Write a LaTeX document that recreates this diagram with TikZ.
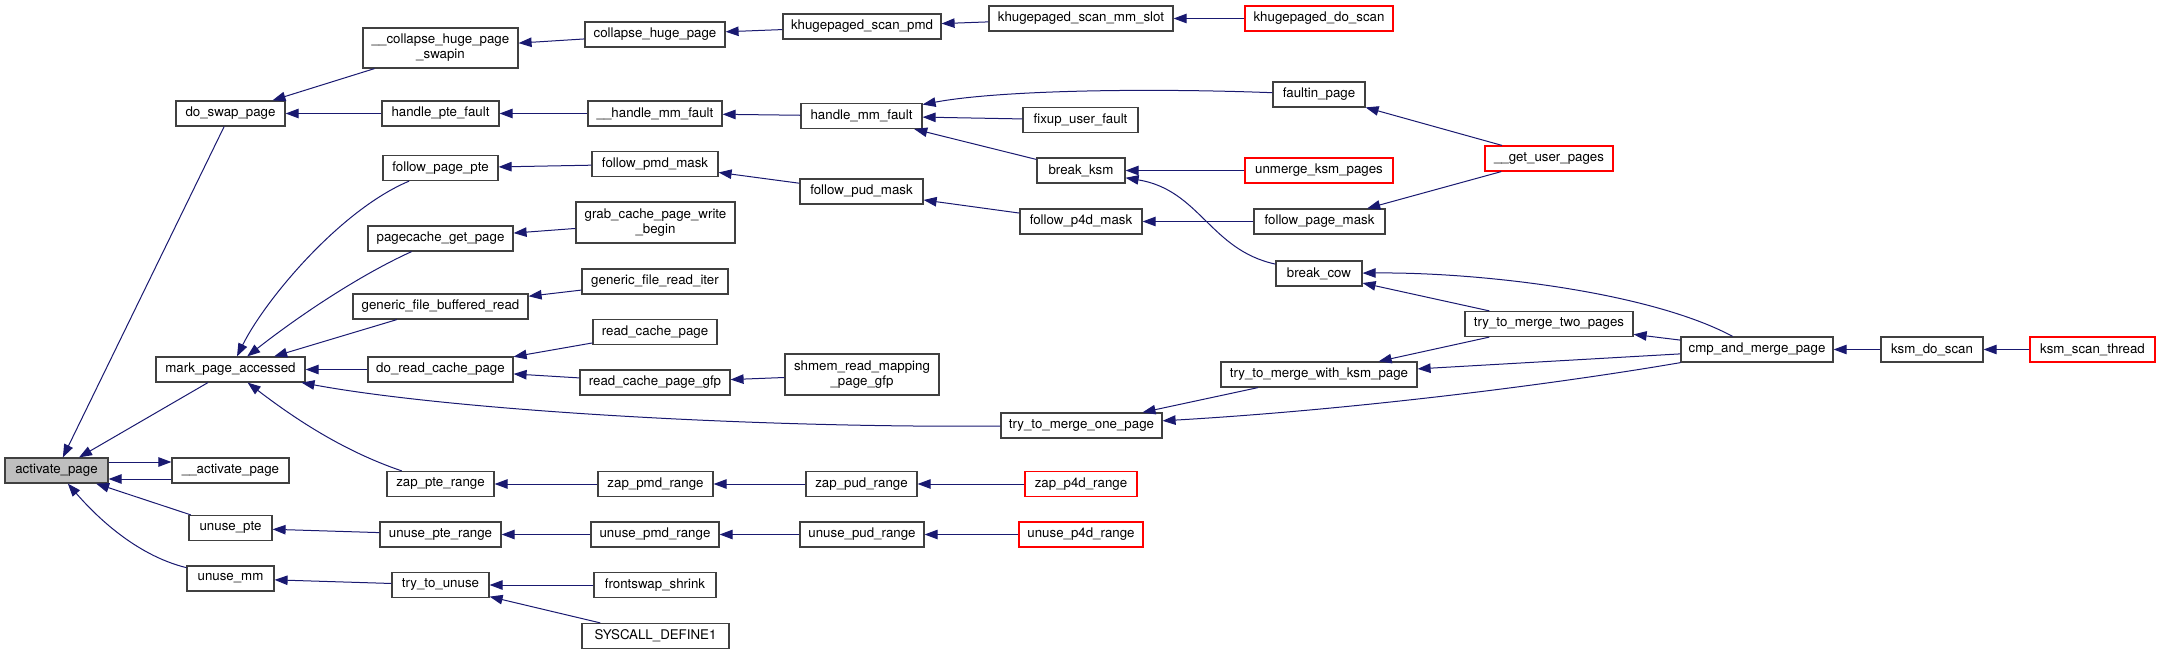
\documentclass[tikz,border=0pt]{standalone}
\usepackage{fontspec}
\setmainfont{TeX Gyre Heros}
\usepackage{xcolor}
\usepackage{tikz}
\usetikzlibrary{arrows.meta,positioning}
\definecolor{edgeblue}{HTML}{191970}
\definecolor{boxgray}{HTML}{404040}

\begin{document}
\begin{tikzpicture}[x=1pt, y=-1pt,
	fn/.style={draw=boxgray, line width=1.2pt, fill=white, minimum height=25pt, inner xsep=2pt, inner ysep=1pt, font=\fontsize{13.3}{15}\selectfont, align=center},
	ext/.style={fn, draw=red},
	cur/.style={fn, fill=black!25},
	call/.style={draw=edgeblue, line width=1pt, -{Triangle[length=13pt, width=9.5pt]}}]
		\useasboundingbox (0,0) rectangle (2164,655);
		\node[cur, minimum width=103] (ap) at (56.5,470.5) {activate\_page};
		\node[fn, minimum width=109] (dsp) at (230.5,113.5) {do\_swap\_page};
		\node[fn, minimum width=149] (mpa) at (230.5,369.5) {mark\_page\_accessed};
		\node[fn, minimum width=117] (uap) at (230.5,470.5) {\_\_activate\_page};
		\node[fn, minimum width=83] (upte) at (230.5,528) {unuse\_pte};
		\node[fn, minimum width=87] (umm) at (230.5,578.5) {unuse\_mm};
		\node[fn, minimum width=155, minimum height=40] (chps) at (440.5,48) {\_\_collapse\_huge\_page\\\_swapin};
		\node[fn, minimum width=117] (hpf) at (440.5,113.5) {handle\_pte\_fault};
		\node[fn, minimum width=115] (fpte) at (440.5,168) {follow\_page\_pte};
		\node[fn, minimum width=145] (pgp) at (440.5,238.5) {pagecache\_get\_page};
		\node[fn, minimum width=175] (gfbr) at (440.5,306.5) {generic\_file\_buffered\_read};
		\node[fn, minimum width=145] (drcp) at (440.5,369.5) {do\_read\_cache\_page};
		\node[fn, minimum width=107] (zpte) at (440.5,484) {zap\_pte\_range};
		\node[fn, minimum width=121] (uptr) at (440.5,534.5) {unuse\_pte\_range};
		\node[fn, minimum width=97] (ttu) at (440.5,585) {try\_to\_unuse};
		\node[fn, minimum width=140] (chp) at (655,34.5) {collapse\_huge\_page};
		\node[fn, minimum width=134] (hmmf) at (655,113.5) {\_\_handle\_mm\_fault};
		\node[fn, minimum width=126] (fpmd) at (655,164) {follow\_pmd\_mask};
		\node[fn, minimum width=159, minimum height=41] (gcpwb) at (655.5,222.5) {grab\_cache\_page\_write\\\_begin};
		\node[fn, minimum width=146] (gfri) at (655,281.5) {generic\_file\_read\_iter};
		\node[fn, minimum width=124] (rcp) at (655,332) {read\_cache\_page};
		\node[fn, minimum width=150] (rcpg) at (655,382.5) {read\_cache\_page\_gfp};
		\node[fn, minimum width=115] (zpmd) at (655.5,484) {zap\_pmd\_range};
		\node[fn, minimum width=128] (upmd) at (655,534.5) {unuse\_pmd\_range};
		\node[fn, minimum width=122] (fss) at (655,585) {frontswap\_shrink};
		\node[fn, minimum width=147] (sysd) at (655.5,636) {SYSCALL\_DEFINE1};
		\node[fn, minimum width=158] (kspmd) at (862,26.5) {khugepaged\_scan\_pmd};
		\node[fn, minimum width=121] (hmf) at (861.5,116) {handle\_mm\_fault};
		\node[fn, minimum width=123] (fpud) at (861.5,191.5) {follow\_pud\_mask};
		\node[fn, minimum width=154, minimum height=41] (shmem) at (862,374.5) {shmem\_read\_mapping\\\_page\_gfp};
		\node[fn, minimum width=111] (zpud) at (861.5,484) {zap\_pud\_range};
		\node[fn, minimum width=124] (upud) at (862,534.5) {unuse\_pud\_range};
		\node[fn, minimum width=184] (ksslot) at (1081,18.5) {khugepaged\_scan\_mm\_slot};
		\node[fn, minimum width=115] (fuf) at (1080.5,120) {fixup\_user\_fault};
		\node[fn, minimum width=88] (bksm) at (1081,170.5) {break\_ksm};
		\node[fn, minimum width=122] (fp4d) at (1081,221.5) {follow\_p4d\_mask};
		\node[fn, minimum width=161] (ttmop) at (1081.5,425.5) {try\_to\_merge\_one\_page};
		\node[ext, minimum width=112] (zp4d) at (1081,484) {zap\_p4d\_range};
		\node[ext, minimum width=124] (up4d) at (1081,534.5) {unuse\_p4d\_range};
		\node[ext, minimum width=148] (kdscan) at (1319,18.5) {khugepaged\_do\_scan};
		\node[fn, minimum width=92] (fip) at (1319,94.5) {faultin\_page};
		\node[ext, minimum width=148] (uksm) at (1319,170.5) {unmerge\_ksm\_pages};
		\node[fn, minimum width=131] (fpm) at (1319.5,221.5) {follow\_page\_mask};
		\node[fn, minimum width=86] (bcow) at (1319,273.5) {break\_cow};
		\node[fn, minimum width=196] (ttmwk) at (1319,374.5) {try\_to\_merge\_with\_ksm\_page};
		\node[ext, minimum width=128] (gup) at (1549,158.5) {\_\_get\_user\_pages};
		\node[fn, minimum width=168] (ttmtp) at (1549,324) {try\_to\_merge\_two\_pages};
		\node[fn, minimum width=152] (cmp) at (1757,349.5) {cmp\_and\_merge\_page};
		\node[fn, minimum width=102] (kds) at (1932,349.5) {ksm\_do\_scan};
		\node[ext, minimum width=125] (kst) at (2092.5,349.5) {ksm\_scan\_thread};
		\draw[call] (dsp) -- (ap);
		\draw[call] (mpa) -- (ap);
		\draw[call] ([yshift=8.5pt]ap.east) -- ([yshift=8.5pt]uap.west);
		\draw[call] ([yshift=-8.5pt]uap.west) -- ([yshift=-8.5pt]ap.east);
		\draw[call] (upte) -- (ap);
		\draw[call] (umm) .. controls (135,555) and (95,515) .. (ap);
		\draw[call] (chps) -- (dsp);
		\draw[call] (hpf) -- (dsp);
		\draw[call] (chp) -- (chps);
		\draw[call] (kspmd) -- (chp);
		\draw[call] (ksslot) -- (kspmd);
		\draw[call] (kdscan) -- (ksslot);
		\draw[call] (hmmf) -- (hpf);
		\draw[call] (hmf) -- (hmmf);
		\draw[call] (fip) .. controls (1150,88) and (1000,90) .. (hmf);
		\draw[call] (fuf) -- (hmf);
		\draw[call] (bksm) -- (hmf);
		\draw[call] (uksm) -- (bksm);
		\draw[call] (bcow) .. controls (1210,250) and (1200,190) .. (bksm);
		\draw[call] (gup) -- (fip);
		\draw[call] (gup) -- (fpm);
		\draw[call] (fpm) -- (fp4d);
		\draw[call] (fp4d) -- (fpud);
		\draw[call] (fpud) -- (fpmd);
		\draw[call] (fpmd) -- (fpte);
		\draw[call] (fpte) .. controls (340,210) and (265,300) .. (mpa);
		\draw[call] (pgp) .. controls (360,275) and (300,315) .. (mpa);
		\draw[call] (gfbr) -- (mpa);
		\draw[call] (drcp) -- (mpa);
		\draw[call] (ttmop) .. controls (750,428) and (450,410) .. (mpa);
		\draw[call] (zpte) .. controls (340,450) and (290,415) .. (mpa);
		\draw[call] (gcpwb) -- (pgp);
		\draw[call] (gfri) -- (gfbr);
		\draw[call] (rcp) -- (drcp);
		\draw[call] (rcpg) -- (drcp);
		\draw[call] (shmem) -- (rcpg);
		\draw[call] (ttmwk) -- (ttmop);
		\draw[call] (cmp) .. controls (1550,385) and (1350,410) .. (ttmop);
		\draw[call] (ttmtp) -- (ttmwk);
		\draw[call] (cmp) -- (ttmwk);
		\draw[call] (cmp) -- (ttmtp);
		\draw[call] (cmp) .. controls (1650,292) and (1480,272) .. (bcow);
		\draw[call] (ttmtp) -- (bcow);
		\draw[call] (kds) -- (cmp);
		\draw[call] (kst) -- (kds);
		\draw[call] (zpmd) -- (zpte);
		\draw[call] (zpud) -- (zpmd);
		\draw[call] (zp4d) -- (zpud);
		\draw[call] (uptr) -- (upte);
		\draw[call] (upmd) -- (uptr);
		\draw[call] (upud) -- (upmd);
		\draw[call] (up4d) -- (upud);
		\draw[call] (ttu) -- (umm);
		\draw[call] (fss) -- (ttu);
		\draw[call] (sysd) -- (ttu);
	\end{tikzpicture}
\end{document}
